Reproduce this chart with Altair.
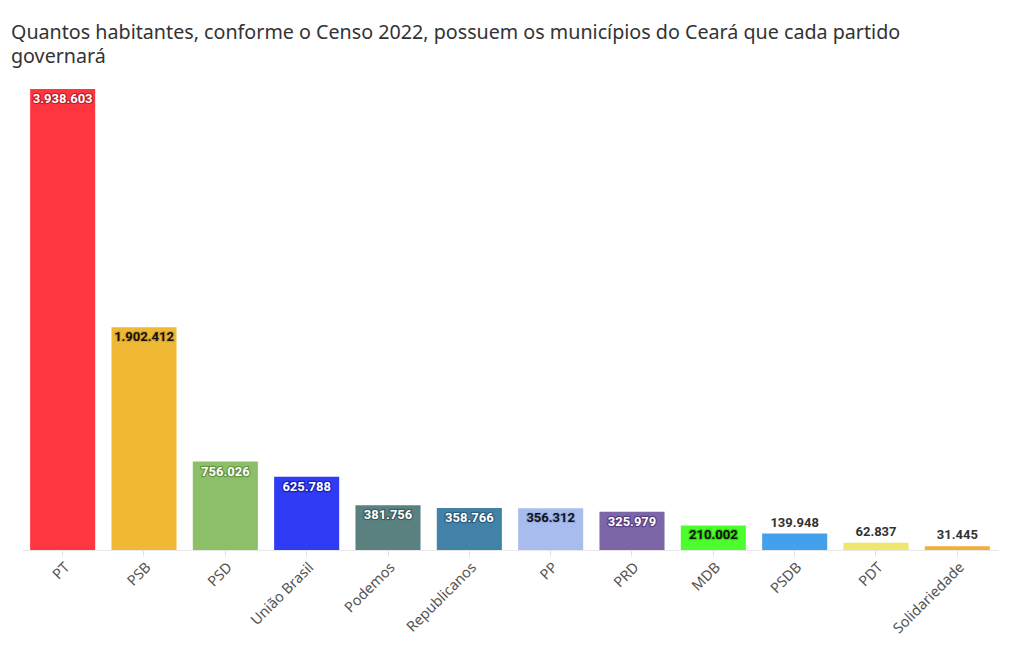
import altair as alt
import pandas as pd

partidos = ["PT", "PSB", "PSD", "União Brasil", "Podemos", "Republicanos",
            "PP", "PRD", "MDB", "PSDB", "PDT", "Solidariedade"]
habitantes = [3938603, 1902412, 756026, 625788, 381756, 358766,
              356312, 325979, 210002, 139948, 62837, 31445]
cores = ["#ff3640", "#f0b935", "#8dbf69", "#2f3bf5", "#5a8080", "#4282a8",
         "#a8bdee", "#7d66a8", "#4cff2c", "#44a0ec", "#ede76e", "#f7ad3a"]
cor_texto = ["#ffffff", "#111111", "#ffffff", "#ffffff", "#ffffff", "#ffffff",
             "#111111", "#ffffff", "#111111", "#333333", "#333333", "#333333"]
cor_halo = ["#a0101a", "#d09a20", "#4f8030", "#0a1290", "#2a4848", "#1d4a6a",
            "#8ca4e0", "#3f2a70", "#30c010", "#ffffff", "#ffffff", "#ffffff"]

df = pd.DataFrame({
    "partido": partidos,
    "v": habitantes,
    "cor": cores,
    "ct": cor_texto,
    "ch": cor_halo,
    "rot": [f"{v:,}".replace(",", ".") for v in habitantes],
})

x = alt.X("partido:N", sort=partidos, title=None,
          scale=alt.Scale(paddingInner=0.2, paddingOuter=0.1),
          axis=alt.Axis(labelAngle=-45, labelFontSize=14.5, labelColor="#555555",
                        labelFont="Noto Sans", labelAlign="right", labelBaseline="top",
                        labelPadding=4,
                        tickColor="#e0e0e0", tickSize=6, domainColor="#e8e8e8"))
y = alt.Y("v:Q", axis=None, scale=alt.Scale(domain=[0, 3938603], nice=False))

base = alt.Chart(df).encode(x=x, y=y)

bars = base.mark_bar().encode(color=alt.Color("cor:N", scale=None, legend=None))

inside = base.transform_filter("datum.v > 200000")
outside = base.transform_filter("datum.v <= 200000")

txt = dict(font="Roboto", fontSize=13, fontWeight="bold")
in_halo = inside.mark_text(baseline="top", dy=4, strokeWidth=2.5,
                           strokeOpacity=0.65, strokeJoin="round", **txt).encode(
    text="rot:N", stroke=alt.Color("ch:N", scale=None), fill=alt.Color("ch:N", scale=None))
in_text = inside.mark_text(baseline="top", dy=4, **txt).encode(
    text="rot:N", color=alt.Color("ct:N", scale=None))
out_text = outside.mark_text(baseline="bottom", dy=-4, **txt).encode(
    text="rot:N", color=alt.Color("ct:N", scale=None))

chart = alt.layer(bars, in_halo, in_text, out_text).properties(
    width=976, height=461,
    autosize=alt.AutoSizeParams(type="none"),
    padding={"left": 14, "top": 81, "right": 14, "bottom": 100},
    title=alt.Title(
        ["Quantos habitantes, conforme o Censo 2022, possuem os municípios do Ceará que cada partido",
         "governará"],
        anchor="start", frame="group", dx=-11, offset=22, fontSize=19.7,
        font="Noto Sans", fontWeight="normal", color="#333333", lineHeight=24),
).configure_view(stroke=None)

chart.save("out.html", embed_options={"renderer": "svg", "actions": False})
